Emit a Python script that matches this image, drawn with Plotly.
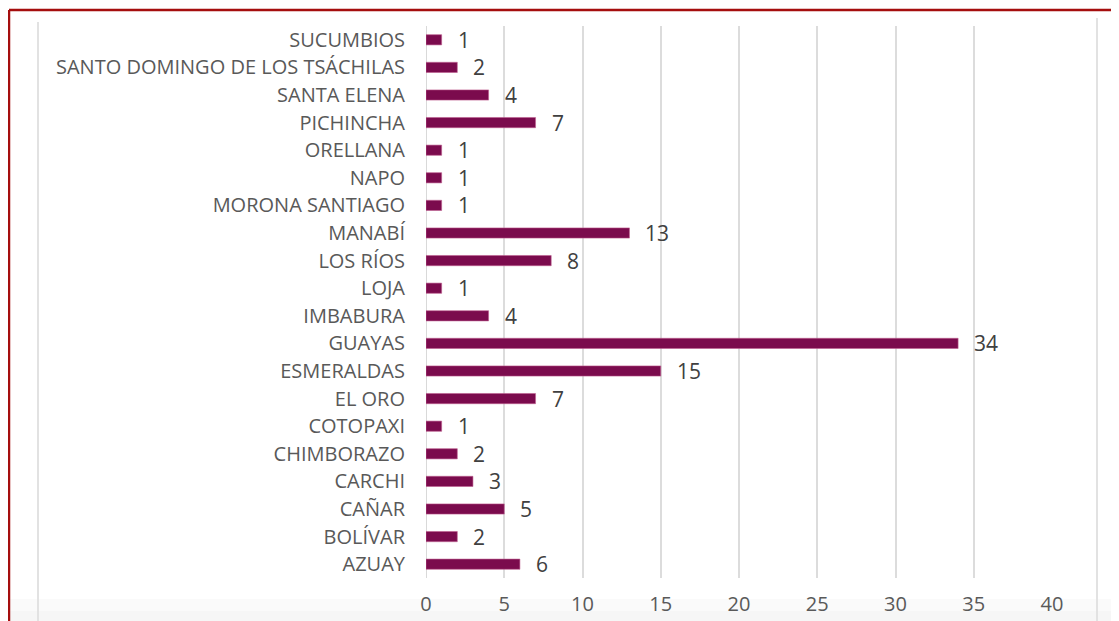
import plotly.graph_objects as go

categories = ["AZUAY", "BOLÍVAR", "CAÑAR", "CARCHI", "CHIMBORAZO", "COTOPAXI", "EL ORO",
              "ESMERALDAS", "GUAYAS", "IMBABURA", "LOJA", "LOS RÍOS", "MANABÍ",
              "MORONA SANTIAGO", "NAPO", "ORELLANA", "PICHINCHA", "SANTA ELENA",
              "SANTO DOMINGO DE LOS TSÁCHILAS", "SUCUMBIOS"]
values = [6, 2, 5, 3, 2, 1, 7, 15, 34, 4, 1, 8, 13, 1, 1, 1, 7, 4, 2, 1]
x_ticks = [0, 5, 10, 15, 20, 25, 30, 35, 40]

# page body has an 8px margin, so the figure is sized to fit the viewport
W, H = 1111, 613
L, R, T, B = 418, 1044, 18, 570
FONT = "Open Sans, Lato, sans-serif"


def px(xpix):
    return (xpix - L) / (R - L)


def py(ypix):
    return (B - ypix) / (B - T)


fig = go.Figure()
fig.add_trace(go.Bar(
    y=categories, x=values, orientation="h",
    marker=dict(color="#7b0b4d", line=dict(color="#c06090", width=0.6)),
    width=0.37, hoverinfo="skip",
))

for c, v in zip(categories, values):
    fig.add_annotation(x=v, y=c, text=str(v), showarrow=False, xanchor="left",
                       xshift=14, yshift=0,
                       font=dict(family=FONT, size=21, color="#404040"))

shapes = [
    # subtle bottom shading
    dict(type="rect", xref="paper", yref="paper", x0=px(0), x1=px(W), y0=py(H), y1=py(H - 10),
         fillcolor="#eeeeee", line=dict(width=0), layer="below", opacity=0.5),
    dict(type="rect", xref="paper", yref="paper", x0=px(0), x1=px(W), y0=py(H - 10), y1=py(H - 22),
         fillcolor="#f6f6f6", line=dict(width=0), layer="below", opacity=0.5),
    # red outer frame
    dict(type="line", xref="paper", yref="paper", x0=px(1), x1=px(1), y0=py(H), y1=py(2),
         line=dict(color="#a50e0e", width=2.5)),
    dict(type="line", xref="paper", yref="paper", x0=px(1), x1=px(W + 5), y0=py(2), y1=py(2),
         line=dict(color="#a50e0e", width=2.5)),
    # light gray inner panel edges
    dict(type="line", xref="paper", yref="paper", x0=px(30), x1=px(30), y0=py(H), y1=py(14),
         line=dict(color="#e2e2e2", width=2)),
    dict(type="line", xref="paper", yref="paper", x0=px(1089), x1=px(1089), y0=py(H), y1=py(10),
         line=dict(color="#e2e2e2", width=2)),
    # zero axis line
    dict(type="line", xref="x", yref="paper", x0=0, x1=0, y0=0, y1=1,
         line=dict(color="#d9d9d9", width=2), layer="below"),
]

fig.update_layout(
    width=W, height=H,
    margin=dict(l=L, r=W - R, t=T, b=H - B, pad=0, autoexpand=False),
    paper_bgcolor="white", plot_bgcolor="white",
    showlegend=False,
    xaxis=dict(range=[0, 40], tickvals=x_ticks, showgrid=True, gridcolor="#dcdcdc",
               gridwidth=2, zeroline=False, showline=False, ticks="", automargin=False,
               ticklabelstandoff=12,
               tickfont=dict(family=FONT, size=20, color="#595959")),
    yaxis=dict(categoryorder="array", categoryarray=categories, showgrid=False,
               range=[-0.5, len(categories) - 0.5], automargin=False,
               zeroline=False, showline=False, ticks="", ticklabelstandoff=20,
               tickfont=dict(family=FONT, size=20, color="#595959")),
    shapes=shapes,
)

fig.write_html("out.html")
